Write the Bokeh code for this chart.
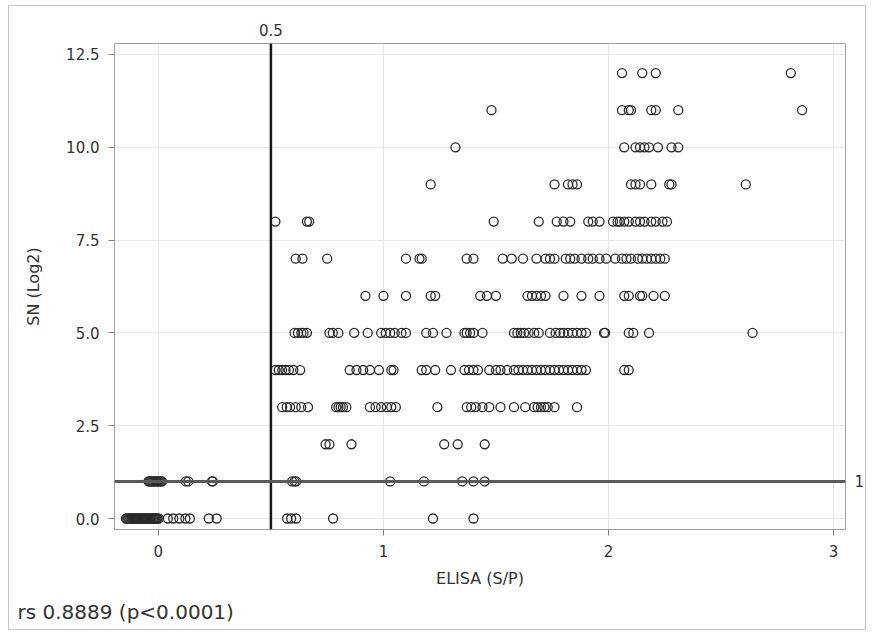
from bokeh.plotting import figure
from bokeh.models import (Span, Range1d, FixedTicker, ColumnDataSource, LinearAxis,
                          Title, CustomJSTickFormatter)
from bokeh.embed import file_html
from bokeh.resources import INLINE

# ELISA (S/P) values for each SN (Log2) level
sn_levels = [0, 1, 2, 3, 4, 5, 6, 7, 8, 9, 10, 11, 12]

elisa_sn0 = [-0.144, -0.139, -0.134, -0.129, -0.124, -0.119, -0.114, -0.109, -0.104, -0.099,
             -0.094, -0.089, -0.084, -0.079, -0.074, -0.069, -0.064, -0.059, -0.054, -0.049,
             -0.044, -0.039, -0.034, -0.029, -0.024, -0.019, -0.014, -0.009, -0.004, 0.002,
             0.042, 0.066, 0.093, 0.12, 0.14, 0.224, 0.259,
             0.572, 0.59, 0.612, 0.776, 1.22, 1.40]
elisa_sn1 = [-0.044, -0.039, -0.034, -0.029, -0.024, -0.019, -0.014, -0.009, -0.004, 0.001,
             0.006, 0.011, 0.016, 0.122, 0.133, 0.238, 0.242,
             0.594, 0.605, 0.612, 1.03, 1.18, 1.35, 1.40, 1.45]
elisa_sn2 = [0.743, 0.76, 0.858, 1.27, 1.33, 1.45]
elisa_sn3 = [0.55, 0.57, 0.585, 0.61, 0.635, 0.665, 0.79, 0.80, 0.81, 0.82, 0.835, 0.94, 0.965,
             0.99, 1.015, 1.035, 1.055, 1.24, 1.37, 1.39, 1.41, 1.44, 1.47, 1.52, 1.58, 1.63,
             1.67, 1.685, 1.70, 1.715, 1.73, 1.76, 1.86]
elisa_sn4 = [0.52, 0.535, 0.55, 0.565, 0.58, 0.60, 0.63, 0.85, 0.88, 0.91, 0.94, 0.98, 1.035,
             1.045, 1.17, 1.19, 1.23, 1.30, 1.36, 1.38, 1.40, 1.42, 1.47, 1.50, 1.52, 1.55,
             1.58, 1.60, 1.62, 1.64, 1.66, 1.68, 1.70, 1.72, 1.74, 1.76, 1.78, 1.80, 1.82,
             1.84, 1.86, 1.88, 1.90, 2.07, 2.09]
elisa_sn5 = [0.605, 0.62, 0.635, 0.645, 0.66, 0.76, 0.775, 0.80, 0.87, 0.93, 0.99, 1.01, 1.03,
             1.05, 1.08, 1.10, 1.19, 1.22, 1.28, 1.36, 1.37, 1.385, 1.40, 1.44, 1.58, 1.595,
             1.61, 1.625, 1.645, 1.67, 1.69, 1.74, 1.765, 1.785, 1.80, 1.82, 1.84, 1.86, 1.88,
             1.90, 1.98, 1.985, 2.09, 2.11, 2.18, 2.64]
elisa_sn6 = [0.92, 1.00, 1.10, 1.21, 1.23, 1.43, 1.46, 1.50, 1.64, 1.66, 1.68, 1.70, 1.72,
             1.80, 1.88, 1.96, 2.07, 2.09, 2.14, 2.15, 2.20, 2.25]
elisa_sn7 = [0.61, 0.64, 0.75, 1.10, 1.16, 1.17, 1.37, 1.40, 1.53, 1.57, 1.62, 1.68, 1.72,
             1.74, 1.76, 1.81, 1.83, 1.85, 1.88, 1.91, 1.93, 1.96, 1.99, 2.03, 2.06, 2.08,
             2.10, 2.13, 2.15, 2.17, 2.19, 2.21, 2.23, 2.25]
elisa_sn8 = [0.52, 0.66, 0.67, 1.49, 1.69, 1.77, 1.80, 1.83, 1.91, 1.93, 1.96, 2.02, 2.04,
             2.05, 2.07, 2.09, 2.12, 2.14, 2.16, 2.19, 2.21, 2.24, 2.26]
elisa_sn9 = [1.21, 1.76, 1.82, 1.84, 1.86, 2.10, 2.12, 2.14, 2.19, 2.27, 2.28, 2.61]
elisa_sn10 = [1.32, 2.07, 2.12, 2.14, 2.16, 2.18, 2.22, 2.28, 2.31]
elisa_sn11 = [1.48, 2.06, 2.09, 2.10, 2.19, 2.21, 2.31, 2.86]
elisa_sn12 = [2.06, 2.15, 2.21, 2.81]

x_ticks = [0, 1, 2, 3]
y_ticks = [0.0, 2.5, 5.0, 7.5, 10.0, 12.5]
elisa_cutoff = 0.5
sn_cutoff = 1
stat_text = "rs 0.8889 (p<0.0001)"

groups = [elisa_sn0, elisa_sn1, elisa_sn2, elisa_sn3, elisa_sn4, elisa_sn5, elisa_sn6,
          elisa_sn7, elisa_sn8, elisa_sn9, elisa_sn10, elisa_sn11, elisa_sn12]
xs, ys = [], []
for lvl, vals in zip(sn_levels, groups):
    xs.extend(vals)
    ys.extend([lvl] * len(vals))
src = ColumnDataSource(dict(x=xs, y=ys))

FONT = "DejaVu Sans"
TXT = "#333333"
p = figure(width=858, height=625, output_backend="svg", toolbar_location=None,
           x_range=Range1d(-0.195, 3.053), y_range=Range1d(-0.296, 12.796),
           min_border_left=105, min_border_right=20, min_border_top=37, min_border_bottom=102)
p.margin = (5, 0, 0, 8)
p.styles = {"border": "1px solid #c8c8c8"}
p.outline_line_color = "#a0a0a0"
p.outline_line_width = 1
p.background_fill_color = "white"
p.border_fill_color = "white"

p.grid.grid_line_color = "#e6e6e6"
p.grid.grid_line_width = 1

p.scatter("x", "y", source=src, marker="circle", size=9, fill_color=None,
          line_color="#2a2a2a", line_width=1.3)

p.add_layout(Span(location=elisa_cutoff, dimension="height", line_color="#1a1a1a", line_width=2.5))
p.add_layout(Span(location=sn_cutoff, dimension="width", line_color="#5a5a5a", line_width=3))

p.xaxis.ticker = FixedTicker(ticks=x_ticks)
p.yaxis.ticker = FixedTicker(ticks=y_ticks)
p.yaxis.formatter = CustomJSTickFormatter(code="return tick.toFixed(1);")
for ax in (p.xaxis, p.yaxis):
    ax.axis_line_color = "#a0a0a0"
    ax.major_tick_line_color = "#808080"
    ax.major_tick_out = 6
    ax.major_tick_in = 0
    ax.minor_tick_line_color = None
    ax.major_label_text_font = FONT
    ax.major_label_text_font_size = "15px"
    ax.major_label_text_color = TXT
    ax.major_label_standoff = 9
    ax.axis_label_text_font = FONT
    ax.axis_label_text_font_size = "16px"
    ax.axis_label_text_font_style = "normal"
    ax.axis_label_text_color = TXT
p.xaxis.axis_label = "ELISA (S/P)"
p.yaxis.axis_label = "SN (Log2)"
p.xaxis.axis_label_standoff = 9
p.yaxis.axis_label_standoff = 20

# reference-line value labels as extra axes
top_ax = LinearAxis(ticker=FixedTicker(ticks=[elisa_cutoff]), axis_line_color=None,
                    major_tick_line_color=None, minor_tick_line_color=None,
                    major_tick_out=0, major_tick_in=0, major_label_standoff=8,
                    major_label_text_font=FONT, major_label_text_font_size="15px",
                    major_label_text_color=TXT)
p.add_layout(top_ax, "above")
right_ax = LinearAxis(ticker=FixedTicker(ticks=[sn_cutoff]), axis_line_color=None,
                      major_tick_line_color=None, minor_tick_line_color=None,
                      major_tick_out=0, major_tick_in=0, major_label_standoff=9,
                      major_label_text_font=FONT, major_label_text_font_size="15px",
                      major_label_text_color=TXT)
p.add_layout(right_ax, "right")

p.add_layout(Title(text=stat_text, align="left", offset=-97, text_font=FONT,
                   text_font_size="20px", text_font_style="normal", text_color=TXT,
                   standoff=14), "below")

open("out.html", "w").write(file_html(p, INLINE))
